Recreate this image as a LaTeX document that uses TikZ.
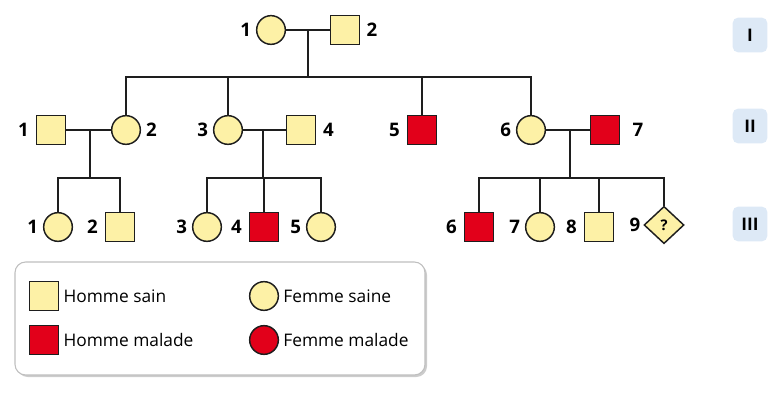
\documentclass[tikz,border=0pt]{standalone}
\usepackage{fontspec}
\setmainfont{Open Sans}
\usetikzlibrary{positioning,shapes.geometric,shadows}
\definecolor{sain}{HTML}{FDF1A6}
\definecolor{malade}{HTML}{E2001A}
\definecolor{trait}{HTML}{1E1E1E}
\definecolor{genbg}{HTML}{DDE9F6}
\tikzset{
  ind/.style={draw=trait, line width=1.1pt, inner sep=0pt},
  homme/.style={ind, rectangle, minimum size=21.8pt},
  femme/.style={ind, circle, minimum size=21.5pt},
  inconnu/.style={ind, diamond, minimum width=30pt, minimum height=28pt,
    font=\bfseries\fontsize{11}{11}\selectfont},
  sain/.style={fill=sain},
  malade/.style={fill=malade},
  num/.style={font=\bfseries\fontsize{14}{14}\selectfont, inner sep=1pt},
  lien/.style={draw=trait, line width=1pt},
  gen/.style={fill=genbg, rounded corners=4pt, minimum size=26pt,
    font=\bfseries\fontsize{13}{13}\selectfont},
  leg/.style={font=\fontsize{13}{13}\selectfont, inner sep=1pt, anchor=west},
}
\begin{document}
\begin{tikzpicture}[x=0.75pt,y=-0.75pt]
\useasboundingbox (0,0) rectangle (780,398);
% generation I
\node[femme, sain] (I1) at (271,30) {};
\node[homme, sain] (I2) at (345,30) {};
\node[num, left=2.5pt of I1] {1};
\node[num, right=3.5pt of I2] {2};
% generation II
\node[homme, sain] (II1) at (51,130) {};
\node[femme, sain] (II2) at (126,130) {};
\node[femme, sain] (II3) at (228,130) {};
\node[homme, sain] (II4) at (301,130) {};
\node[homme, malade] (II5) at (422,130) {};
\node[femme, sain] (II6) at (531,130) {};
\node[homme, malade] (II7) at (605,130) {};
\node[num, left=4pt of II1] {1};
\node[num, right=2.5pt of II2] {2};
\node[num, left=2.5pt of II3] {3};
\node[num, right=4pt of II4] {4};
\node[num, left=4pt of II5] {5};
\node[num, left=2.5pt of II6] {6};
\node[num, right=8pt of II7] {7};
% generation III
\node[femme, sain] (III1) at (58,227) {};
\node[homme, sain] (III2) at (120,227) {};
\node[femme, sain] (III3) at (207,227) {};
\node[homme, malade] (III4) at (264,227) {};
\node[femme, sain] (III5) at (321,227) {};
\node[homme, malade] (III6) at (479,227) {};
\node[femme, sain] (III7) at (540,227) {};
\node[homme, sain] (III8) at (599,227) {};
\node[inconnu, sain] (III9) at (664,225) {?};
\node[num, left=2.5pt of III1] {1};
\node[num, left=4pt of III2] {2};
\node[num, left=2.5pt of III3] {3};
\node[num, left=4pt of III4] {4};
\node[num, left=2.5pt of III5] {5};
\node[num, left=4pt of III6] {6};
\node[num, left=2.5pt of III7] {7};
\node[num, left=4pt of III8] {8};
\node[num, left=1pt of III9] {9};
% unions
\coordinate (uI) at (308,30);
\coordinate (uII1) at (90,130);
\coordinate (uII3) at (263,130);
\coordinate (uII6) at (570,130);
\coordinate (fI) at (0,77);
\coordinate (fII) at (0,178);
\draw[lien] (I1) -- (I2);
\draw[lien] (II1) -- (II2);
\draw[lien] (II3) -- (II4);
\draw[lien] (II6) -- (II7);
\draw[lien] (uI) -- (uI |- fI);
\draw[lien] (uII1) -- (uII1 |- fII);
\draw[lien] (uII3) -- (uII3 |- fII);
\draw[lien] (uII6) -- (uII6 |- fII);
% fratries
\draw[lien] (II2.north) -- (II2.north |- fI) -- (II6.north |- fI) -- (II6.north);
\draw[lien] (II3.north) -- (II3.north |- fI);
\draw[lien] (II5.north) -- (II5.north |- fI);
\draw[lien] (III1.north) -- (III1.north |- fII) -- (III2.north |- fII) -- (III2.north);
\draw[lien] (III3.north) -- (III3.north |- fII) -- (III5.north |- fII) -- (III5.north);
\draw[lien] (III4.north) -- (III4.north |- fII);
\draw[lien] (III6.north) -- (III6.north |- fII) -- (III9.north |- fII) -- (III9.north);
\draw[lien] (III7.north) -- (III7.north |- fII);
\draw[lien] (III8.north) -- (III8.north |- fII);
% generations
\node[gen] (gI) at (750,35) {I};
\node[gen] (gII) at (750,126) {II};
\node[gen] (gIII) at (750,224) {III};
% legende
\draw[draw=black!25, fill=white, rounded corners=8pt, line width=0.8pt,
  drop shadow={shadow xshift=1.5pt, shadow yshift=-1.5pt, fill=black!40}]
  (15,262) rectangle (425,375);
\node[homme, sain] (lHs) at (44,296) {};
\node[homme, malade] (lHm) at (44,340) {};
\node[femme, sain] (lFs) at (264,296) {};
\node[femme, malade] (lFm) at (264,340) {};
\node[leg, right=2pt of lHs] {Homme sain};
\node[leg, right=2pt of lHm] {Homme malade};
\node[leg, right=2pt of lFs] {Femme saine};
\node[leg, right=2pt of lFm] {Femme malade};
\end{tikzpicture}
\end{document}
